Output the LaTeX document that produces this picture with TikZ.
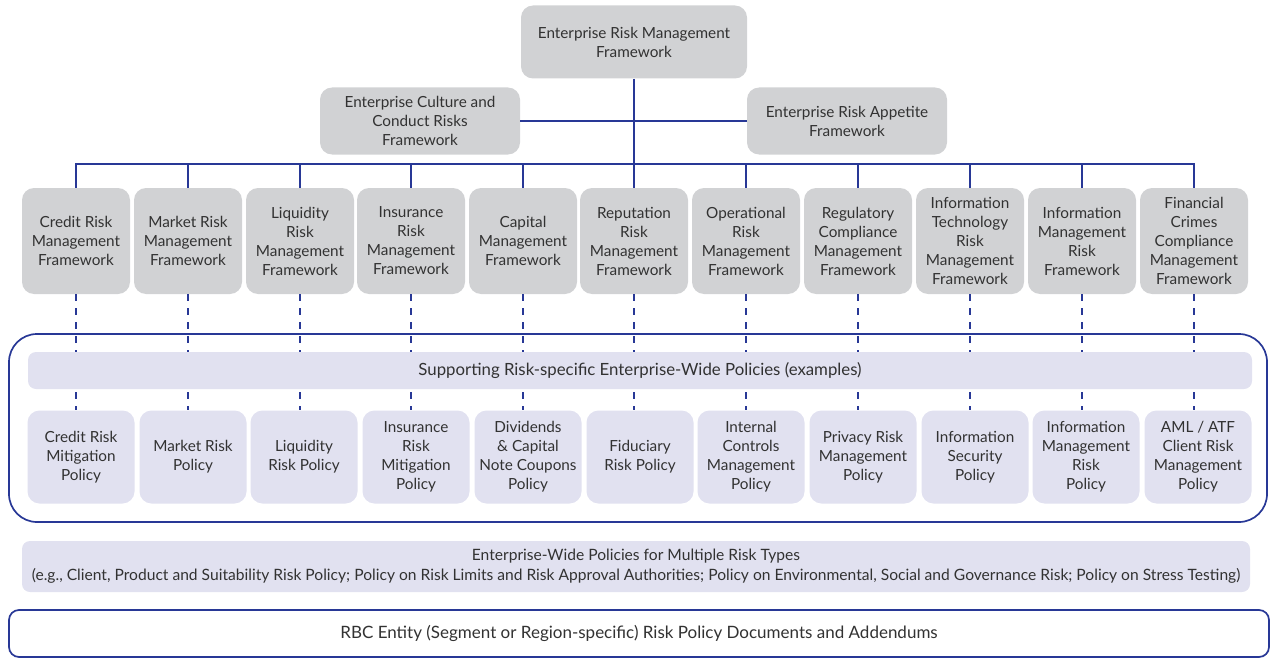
\documentclass[tikz,border=0pt]{standalone}
\usepackage{fontspec}
\setmainfont{Lato}
\usetikzlibrary{positioning}
\definecolor{boxgrey}{RGB}{209,210,212}
\definecolor{lavender}{RGB}{225,225,240}
\definecolor{rbcblue}{RGB}{40,56,150}
\definecolor{ink}{RGB}{50,50,50}
\begin{document}
\begin{tikzpicture}[x=1pt, y=-1pt, thick, font=\fontsize{15.3}{19}\selectfont]
\tikzstyle{greybox}=[fill=boxgrey, rounded corners=12pt, text=ink, align=center, inner sep=0pt]
\tikzstyle{fwbox}=[greybox, minimum width=108pt, minimum height=106pt]
\tikzstyle{polbox}=[fill=lavender, rounded corners=12pt, text=ink, align=center, inner sep=0pt,
                    minimum width=107pt, minimum height=93pt]
\tikzstyle{outline}=[draw=rbcblue, line width=1.7pt, inner sep=0pt]
\tikzstyle{link}=[draw=rbcblue, line width=1.4pt]
\tikzstyle{dashlink}=[link, dash pattern=on 7pt off 7pt]
\useasboundingbox (0,0) rectangle (1271,658);
  \node[outline, rounded corners=28pt, minimum width=1258pt, minimum height=188pt] (group) at (638,428) {};
  \node[greybox, minimum width=226pt, minimum height=73pt] (erm) at (634,42) {Enterprise Risk Management\\Framework};
  \node[greybox, minimum width=200pt, minimum height=67pt] (culture) at (420,121) {Enterprise Culture and\\Conduct Risks\\Framework};
  \node[greybox, minimum width=200pt, minimum height=67pt] (appetite) at (847,121) {Enterprise Risk Appetite\\Framework};
  \coordinate (bus) at (634,164);
  \foreach \x/\name/\txt in {{76/credit/Credit Risk\\Management\\Framework},
                             {188/market/Market Risk\\Management\\Framework},
                             {300/liquidity/Liquidity\\Risk\\Management\\Framework},
                             {411/insurance/Insurance\\Risk\\Management\\Framework},
                             {523/capital/Capital\\Management\\Framework},
                             {634/reputation/Reputation\\Risk\\Management\\Framework},
                             {746/operational/Operational\\Risk\\Management\\Framework},
                             {858/regulatory/Regulatory\\Compliance\\Management\\Framework},
                             {970/infotech/Information\\Technology\\Risk\\Management\\Framework},
                             {1082/infomgmt/Information\\Management\\Risk\\Framework},
                             {1194/fincrimes/Financial\\Crimes\\Compliance\\Management\\Framework}}
    \node[fwbox] (\name) at (\x,241) {\txt};
  \foreach \x/\name/\txt in {{81/creditpol/Credit Risk\\Mitigation\\Policy},
                             {193/marketpol/Market Risk\\Policy},
                             {304/liquiditypol/Liquidity\\Risk Policy},
                             {416/insurancepol/Insurance\\Risk\\Mitigation\\Policy},
                             {528/capitalpol/Dividends\\\& Capital\\Note Coupons\\Policy},
                             {640/reputationpol/Fiduciary\\Risk Policy},
                             {751/operationalpol/Internal\\Controls\\Management\\Policy},
                             {863/regulatorypol/Privacy Risk\\Management\\Policy},
                             {975/infotechpol/Information\\Security\\Policy},
                             {1086/infomgmtpol/Information\\Management\\Risk\\Policy},
                             {1198/fincrimespol/{AML / ATF\\Client Risk\\Management\\Policy}}}
    \node[polbox] (\name) at (\x,457) {\txt};
  \path[link] (erm) -- (bus);
  \path[link] (culture.east) -- (appetite.west);
  \foreach \name in {credit,market,liquidity,insurance,capital,reputation,
                     operational,regulatory,infotech,infomgmt,fincrimes}
      \path[link] (\name.north) |- (bus);
  \foreach \source/\dest in {credit/creditpol,market/marketpol,liquidity/liquiditypol,
                             insurance/insurancepol,capital/capitalpol,reputation/reputationpol,
                             operational/operationalpol,regulatory/regulatorypol,
                             infotech/infotechpol,infomgmt/infomgmtpol,fincrimes/fincrimespol}
      \path[dashlink] (\source.south) -- (\source.south |- \dest.north);
  \node[polbox, minimum width=1224pt, minimum height=37pt, rounded corners=8pt, font=\fontsize{16.8}{20}\selectfont] (support) at (640,370.5)
    {Supporting Risk-specific Enterprise-Wide Policies (examples)};
  \node[polbox, minimum width=1228pt, minimum height=51pt, rounded corners=8pt, font=\fontsize{15.6}{20}\selectfont] (multi) at (636,566.5)
    {Enterprise-Wide Policies for Multiple Risk Types\\(e.g., Client, Product and Suitability Risk Policy; Policy on Risk Limits and Risk Approval Authorities; Policy on Environmental, Social and Governance Risk; Policy on Stress Testing)};
  \node[outline, rounded corners=10pt, fill=white, text=ink, minimum width=1260pt, minimum height=47pt, font=\fontsize{17}{20}\selectfont] (entity) at (639,633.5)
    {RBC Entity (Segment or Region-specific) Risk Policy Documents and Addendums};
\end{tikzpicture}
\end{document}
